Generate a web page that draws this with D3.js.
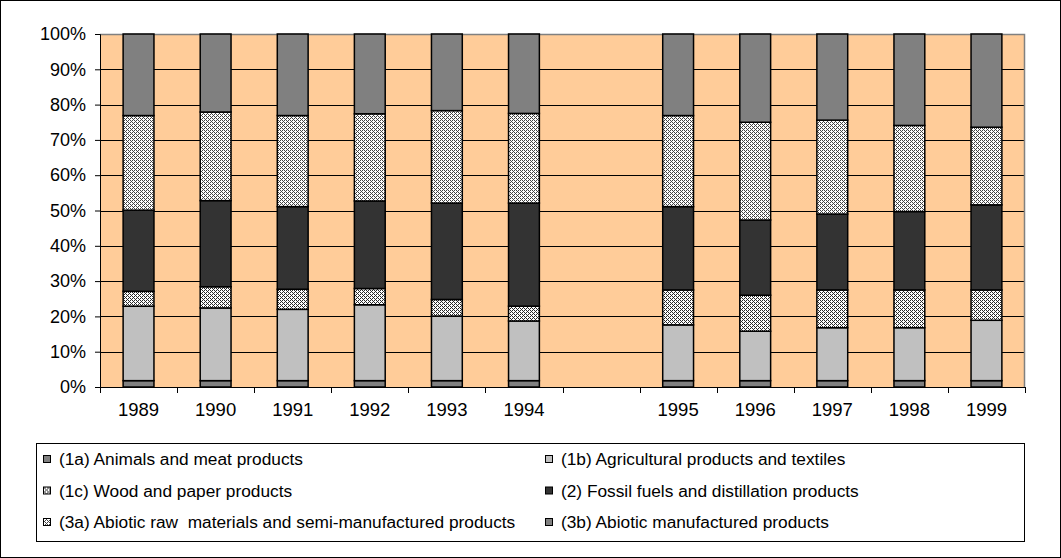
<!DOCTYPE html>
<html>
<head>
<meta charset="utf-8">
<script src="https://cdn.jsdelivr.net/npm/d3@7"></script>
<style>
  body { margin: 0; background: #fff; }
  svg { display: block; font-family: Arial, 'Liberation Sans', sans-serif; }
</style>
</head>
<body>
<svg id="chart"></svg>
<script>
// categories (empty slot between 1994 and 1995 is a gap in the original)
const years = ['1989', '1990', '1991', '1992', '1993', '1994', '', '1995', '1996', '1997', '1998', '1999'];

const seriesNames = [
  '(1a) Animals and meat products',
  '(1b) Agricultural products and textiles',
  '(1c) Wood and paper products',
  '(2) Fossil fuels and distillation products',
  '(3a) Abiotic raw  materials and semi-manufactured products',
  '(3b) Abiotic manufactured products'
];

// percent shares per year, null = gap column
const animals     = [1.8, 1.8, 1.8, 1.8, 1.8, 1.8, null, 1.8, 1.8, 1.8, 1.8, 1.8];
const agriculture = [21.1, 20.6, 20.2, 21.5, 18.3, 16.9, null, 15.8, 14.0, 15.0, 15.0, 17.1];
const wood        = [4.2, 6.0, 5.7, 4.6, 4.7, 4.2, null, 9.9, 10.2, 10.7, 10.7, 8.6];
const fossil      = [23.0, 24.4, 23.4, 24.8, 27.3, 29.2, null, 23.6, 21.3, 21.5, 22.2, 24.1];
const abioticRaw  = [26.8, 25.1, 25.8, 24.7, 26.2, 25.4, null, 25.8, 27.7, 26.6, 24.4, 22.0];
const abioticMan  = [23.1, 22.1, 23.1, 22.6, 21.7, 22.5, null, 23.1, 25.0, 24.4, 25.9, 26.4];

const yTicks = [0, 10, 20, 30, 40, 50, 60, 70, 80, 90, 100];

const seriesValues = [animals, agriculture, wood, fossil, abioticRaw, abioticMan];
const fills = ['#808080', '#c0c0c0', 'url(#hatchWood)', '#333333', 'url(#hatchRaw)', '#808080'];

const W = 1061, H = 558;
const plot = { left: 100, right: 1025, top: 34, bottom: 387 };

const svg = d3.select('#chart')
  .attr('width', W)
  .attr('height', H);

const defs = svg.append('defs');

// pixel patterns, 4x4 cells
const cells = d3.range(16).map(k => ({ px: k % 4, py: Math.floor(k / 4) }));

const makePattern = (id, isDark, dark) => {
  const p = defs.append('pattern')
    .attr('id', id)
    .attr('patternUnits', 'userSpaceOnUse')
    .attr('width', 4).attr('height', 4);
  p.append('rect').attr('width', 4).attr('height', 4).attr('fill', '#ffffff');
  p.selectAll('rect.px')
    .data(cells.filter(isDark))
    .enter()
    .append('rect')
    .attr('class', 'px')
    .attr('x', d => d.px).attr('y', d => d.py)
    .attr('width', 1).attr('height', 1)
    .attr('fill', dark)
    .attr('shape-rendering', 'crispEdges');
};

// (1c) fine downward diagonal
makePattern('hatchWood', d => ((d.px - d.py + 8) % 4) === 0 || (((d.px - d.py + 8) % 4) === 2 && d.py % 2 === 0), '#2a2a2a');
// (3a) fine upward diagonal with dots
makePattern('hatchRaw', d => (d.px + d.py) % 4 === 0 || ((d.px + d.py) % 4 === 2 && d.px % 2 === 0), '#444444');

// outer frame
svg.append('rect')
  .attr('x', 0.5).attr('y', 0.5)
  .attr('width', W - 1).attr('height', H - 1)
  .attr('fill', '#fff')
  .attr('stroke', '#000');

const x = d3.scaleBand()
  .domain(years)
  .range([plot.left, plot.right])
  .paddingInner(0)
  .paddingOuter(0);

const y = d3.scaleLinear()
  .domain([0, 100])
  .range([plot.bottom, plot.top]);

// plot background
svg.append('rect')
  .attr('x', plot.left).attr('y', plot.top)
  .attr('width', plot.right - plot.left)
  .attr('height', plot.bottom - plot.top)
  .attr('fill', '#ffcc99');

// gridlines
svg.append('g')
  .selectAll('line')
  .data(yTicks.filter(t => t > 0 && t < 100))
  .enter()
  .append('line')
  .attr('x1', plot.left).attr('x2', plot.right)
  .attr('y1', d => Math.round(y(d)) + 0.5)
  .attr('y2', d => Math.round(y(d)) + 0.5)
  .attr('stroke', '#000')
  .attr('stroke-width', 1);

// plot border top & right
svg.append('path')
  .attr('d', `M${plot.left},${plot.top + 0.5} H${plot.right - 0.5} V${plot.bottom}`)
  .attr('fill', 'none')
  .attr('stroke', '#808080')
  .attr('stroke-width', 1.5);

// stacked bars
const stackData = years.map((yr, i) => {
  const row = { year: yr };
  seriesNames.forEach((s, j) => { row[s] = seriesValues[j][i] || 0; });
  return row;
});
const stacked = d3.stack().keys(seriesNames)(stackData);

const barW = x.bandwidth() * 0.4;

svg.append('g')
  .selectAll('g')
  .data(stacked)
  .enter()
  .append('g')
  .attr('fill', (d, i) => fills[i])
  .selectAll('rect')
  .data(d => d.filter(p => p.data.year !== ''))
  .enter()
  .append('rect')
  .attr('x', d => x(d.data.year) + (x.bandwidth() - barW) / 2)
  .attr('y', d => y(d[1]))
  .attr('width', barW)
  .attr('height', d => y(d[0]) - y(d[1]))
  .attr('stroke', '#000')
  .attr('stroke-width', 1.5);

// y axis
const yAxis = svg.append('g')
  .attr('transform', `translate(${plot.left},0)`)
  .call(d3.axisLeft(y).tickValues(yTicks).tickSize(5).tickPadding(9).tickFormat(d => d + '%'));
yAxis.select('.domain').attr('stroke', '#000').attr('stroke-width', 1);
yAxis.selectAll('.tick line').attr('stroke', '#000');
yAxis.selectAll('text')
  .attr('font-size', 18)
  .attr('font-family', 'Arial, Liberation Sans, sans-serif')
  .attr('fill', '#000');

// x axis: ticks on category boundaries
const xAxis = svg.append('g')
  .attr('transform', `translate(0,${plot.bottom})`)
  .call(d3.axisBottom(x).tickSize(0).tickPadding(16));
xAxis.select('.domain').attr('stroke', '#000').attr('stroke-width', 1.2);
xAxis.selectAll('text')
  .attr('font-size', 18.5)
  .attr('font-family', 'Arial, Liberation Sans, sans-serif')
  .attr('fill', '#000');

svg.append('g')
  .selectAll('line')
  .data(years.map(d => x(d)).concat([plot.right]))
  .enter()
  .append('line')
  .attr('x1', d => Math.round(d) + 0.5)
  .attr('x2', d => Math.round(d) + 0.5)
  .attr('y1', plot.bottom)
  .attr('y2', plot.bottom + 6)
  .attr('stroke', '#000');

// legend
const legendBox = { x: 36.5, y: 443.5, w: 988, h: 98 };
svg.append('rect')
  .attr('x', legendBox.x).attr('y', legendBox.y)
  .attr('width', legendBox.w).attr('height', legendBox.h)
  .attr('fill', '#fff')
  .attr('stroke', '#000');

const legend = svg.append('g')
  .attr('font-size', 17.3)
  .selectAll('g')
  .data(seriesNames)
  .enter()
  .append('g')
  .attr('transform', (d, i) => `translate(${i % 2 === 0 ? 43 : 545}, ${459 + Math.floor(i / 2) * 31.5})`);

legend.append('rect')
  .attr('x', 0.5)
  .attr('y', -3.5)
  .attr('width', 7)
  .attr('height', 7)
  .attr('fill', (d, i) => fills[i])
  .attr('stroke', '#000');

legend.append('text')
  .attr('x', 16)
  .attr('y', 0)
  .attr('dy', '0.35em')
  .style('white-space', 'pre')
  .attr('fill', '#000')
  .text(d => d);
</script>
</body>
</html>
